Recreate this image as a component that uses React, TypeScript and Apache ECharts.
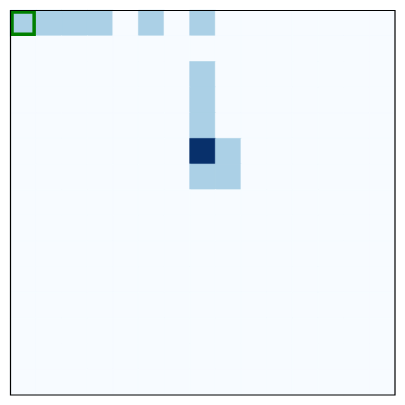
import React, { useEffect, useRef } from "react";
import * as echarts from "echarts";

const gridSize = 15;
// non-zero cells: row, column, value
const cellRows = [0, 0, 0, 0, 0, 0, 2, 3, 4, 5, 5, 6, 6];
const cellCols = [0, 1, 2, 3, 5, 7, 7, 7, 7, 7, 8, 7, 8];
const cellVals = [1, 1, 1, 1, 1, 1, 1, 1, 1, 3, 1, 1, 1];
const highlightCell = [0, 0]; // [col, row]
const levelValues = [0, 1, 3];
const levelColors = ["#f7fbff", "#abd0e6", "#08306b"];

const categories = Array.from({ length: gridSize }, (_, i) => String(i));

export default function App() {
  const ref = useRef<HTMLDivElement>(null);
  useEffect(() => {
    if (!ref.current) return;
    const chart = echarts.init(ref.current, null, { renderer: "svg" });
    const grid: number[][] = [];
    for (let r = 0; r < gridSize; r++) grid.push(new Array(gridSize).fill(0));
    cellRows.forEach((r, i) => {
      grid[r][cellCols[i]] = cellVals[i];
    });
    const data: any[] = [];
    for (let r = 0; r < gridSize; r++) {
      for (let c = 0; c < gridSize; c++) {
        const v = grid[r][c];
        const col = levelColors[levelValues.indexOf(v)];
        data.push({
          value: [c, r, v],
          itemStyle: { borderColor: col, borderWidth: 0.6 },
        });
      }
    }
    chart.setOption({
      animation: false,
      grid: {
        left: 10.5,
        top: 10.5,
        width: 384.5,
        height: 384.5,
        show: false,
      },
      xAxis: {
        type: "category",
        data: categories,
        axisLine: { show: false },
        axisTick: { show: false },
        axisLabel: { show: false },
        splitLine: { show: false },
      },
      yAxis: {
        type: "category",
        data: categories,
        inverse: true,
        axisLine: { show: false },
        axisTick: { show: false },
        axisLabel: { show: false },
        splitLine: { show: false },
      },
      visualMap: {
        show: false,
        type: "piecewise",
        dimension: 2,
        pieces: levelValues.map((v, i) => ({ value: v, color: levelColors[i] })),
      },
      series: [
        {
          type: "heatmap",
          data,
          emphasis: { disabled: true },
        },
      ],
    });
    const p0 = chart.convertToPixel({ gridIndex: 0 }, [highlightCell[0], highlightCell[1]]) as number[];
    const p1 = chart.convertToPixel({ gridIndex: 0 }, [highlightCell[0] + 1, highlightCell[1] + 1]) as number[];
    const cw = p1[0] - p0[0];
    const ch = p1[1] - p0[1];
    const left = p0[0] - cw / 2;
    const top = p0[1] - ch / 2;
    chart.setOption({
      graphic: [
        {
          type: "rect",
          z: 20,
          shape: {
            x: left + 1.5,
            y: top + 1.5,
            width: cw - 3.5,
            height: ch - 3.5,
          },
          style: { fill: "none", stroke: "#008000", lineWidth: 3.5 },
        },
        {
          type: "rect",
          z: 30,
          shape: { x: left, y: top, width: cw * gridSize, height: ch * gridSize },
          style: { fill: "none", stroke: "#000", lineWidth: 1.2 },
        },
      ],
    });
    return () => chart.dispose();
  }, []);
  return (
    <div
      ref={ref}
      style={{ position: "fixed", left: 0, top: 0, width: 405, height: 405, background: "#fff" }}
    />
  );
}
